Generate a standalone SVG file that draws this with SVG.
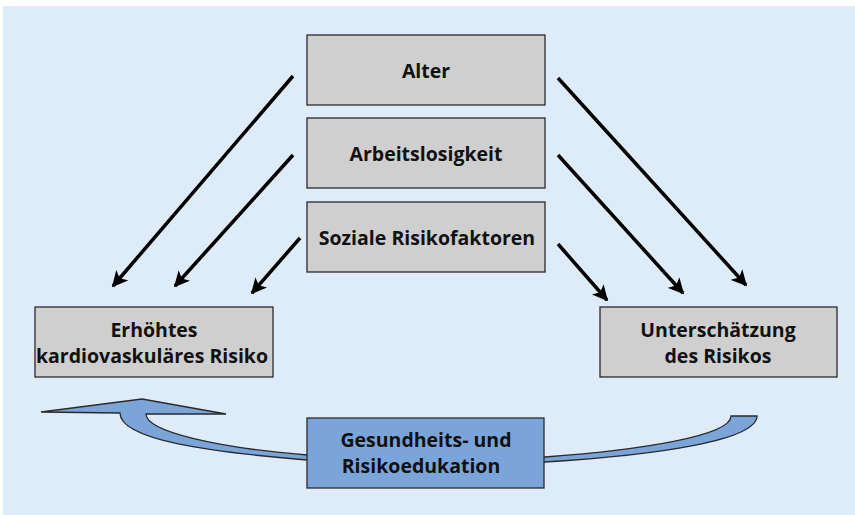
<svg xmlns="http://www.w3.org/2000/svg" width="855" height="515" viewBox="0 0 855 515">
<style>
.box{fill:#cfcfcf;stroke:#2a2a2a;stroke-width:1.3}
.blue{fill:#7ba5d9;stroke:#2a2a2a;stroke-width:1.3}
text{font-family:"Open Sans","Noto Sans",sans-serif;font-weight:bold;font-size:19.5px;fill:#111;text-anchor:middle}
.arr{stroke:#000;stroke-width:3.5;fill:none;marker-end:url(#ah)}
</style>
<defs>
<marker id="ah" viewBox="0 0 10 10" refX="9" refY="5" markerWidth="4.5" markerHeight="4.5" orient="auto" markerUnits="strokeWidth">
<path d="M0,0 L10,5 L0,10 L2.5,5 z" fill="#000"/>
</marker>
</defs>
<rect x="3" y="6" width="852" height="509" fill="#deebf8"/>
<g id="connectors">
<line class="arr" x1="293" y1="76" x2="113" y2="286"/>
<line class="arr" x1="293" y1="155" x2="175" y2="286"/>
<line class="arr" x1="300" y1="238" x2="252" y2="293"/>
<line class="arr" x1="558" y1="78" x2="746" y2="285"/>
<line class="arr" x1="558" y1="155" x2="683" y2="293"/>
<line class="arr" x1="558" y1="244" x2="607" y2="300"/>
<path id="feedback" class="blue" d="M757,416 C757,440 660,455 545,462 L307,460 C210,452 120,440 120,413 L41,412 L142,399 L226,414 L146,414 C146,432 220,448 307,455 L545,457 C640,450 731,436 731,416 Z"/>
</g>
<g id="alter"><rect class="box" x="307" y="35" width="238" height="70"/><text x="426" y="78">Alter</text></g>
<g id="arbeitslosigkeit"><rect class="box" x="307" y="118" width="238" height="70"/><text x="426" y="161">Arbeitslosigkeit</text></g>
<g id="soziale"><rect class="box" x="307" y="202" width="238" height="70"/><text x="427" y="245">Soziale Risikofaktoren</text></g>
<g id="erhoehtes"><rect class="box" x="35" y="307" width="238" height="70"/><text x="154" y="337">Erhöhtes</text><text x="152" y="363">kardiovaskuläres Risiko</text></g>
<g id="unterschaetzung"><rect class="box" x="600" y="307" width="237" height="70"/><text x="718" y="337">Unterschätzung</text><text x="718" y="363">des Risikos</text></g>
<g id="gesundheit"><rect class="blue" x="307" y="418" width="237" height="70"/><text x="426" y="447">Gesundheits- und</text><text x="421" y="473">Risikoedukation</text></g>
</svg>
